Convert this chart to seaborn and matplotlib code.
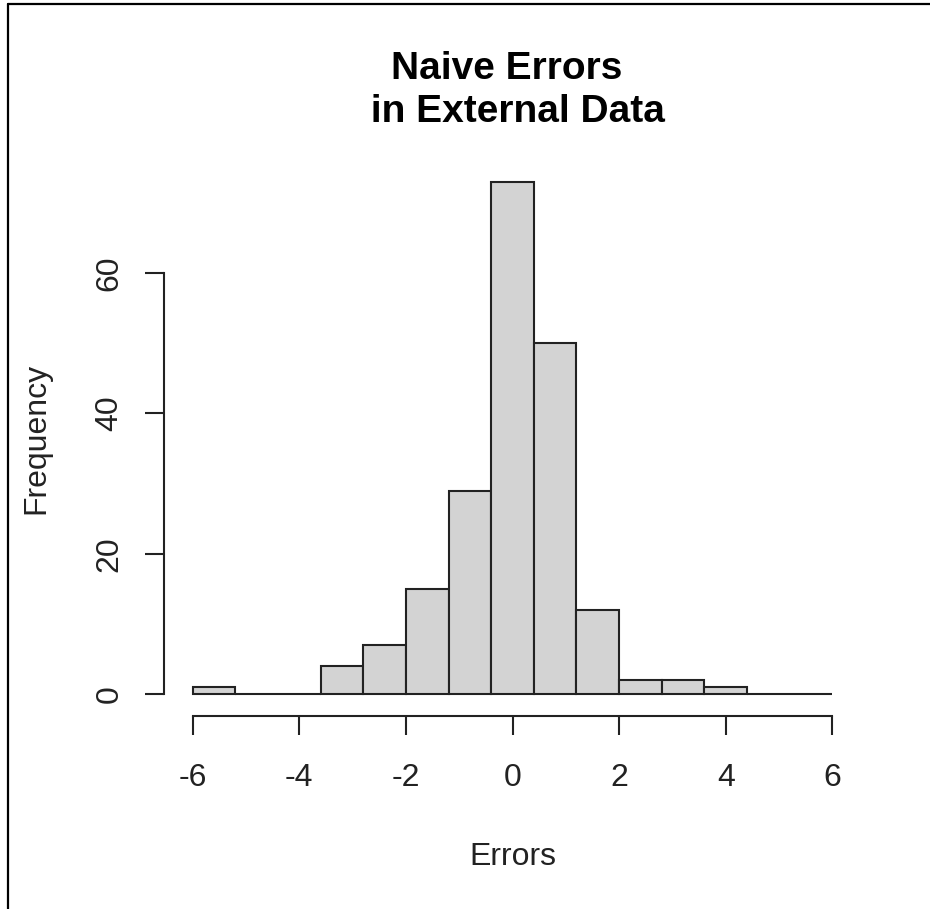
import numpy as np
import pandas as pd
import matplotlib
matplotlib.use("Agg")
import matplotlib.pyplot as plt
import seaborn as sns
from matplotlib.lines import Line2D

# Histogram bins (width 0.8 from -6 to 6) and counts
bin_edges = [-6.0, -5.2, -4.4, -3.6, -2.8, -2.0, -1.2, -0.4,
             0.4, 1.2, 2.0, 2.8, 3.6, 4.4, 5.2, 6.0]
counts = [1, 0, 0, 4, 7, 15, 29, 73, 50, 12, 2, 2, 1, 0, 0]
x_ticks = [-6, -4, -2, 0, 2, 4, 6]
y_ticks = [0, 20, 40, 60]

centers = [(a + b) / 2 for a, b in zip(bin_edges[:-1], bin_edges[1:])]
df = pd.DataFrame({"Errors": centers, "n": counts})

sns.set_style("white")
plt.rcParams["font.family"] = ["Liberation Sans", "DejaVu Sans"]

fig = plt.figure(figsize=(9.3, 9.09), dpi=100)
ax = fig.add_axes([167 / 930, 1 - 715 / 909, 691 / 930, 554 / 909])

sns.histplot(data=df, x="Errors", weights="n", bins=bin_edges,
             color="#D3D3D3", alpha=1, edgecolor="#222222",
             linewidth=1.5, ax=ax)

ax.set_xlim(-6.48, 6.48)
ax.set_ylim(-2.92, 75.92)

# R style detached axes
for s in ["top", "right"]:
    ax.spines[s].set_visible(False)
ax.spines["left"].set_bounds(0, 60)
ax.spines["bottom"].set_bounds(-6, 6)
ax.spines["left"].set_position(("outward", 2))
ax.spines["bottom"].set_position(("outward", 1))
for s in ["left", "bottom"]:
    ax.spines[s].set_color("#222222")
    ax.spines[s].set_linewidth(1.5)

ax.set_xticks(x_ticks)
ax.set_xticklabels([str(v) for v in x_ticks])
ax.set_yticks(y_ticks)
ax.set_yticklabels([str(v) for v in y_ticks], rotation=90, va="center")
ax.tick_params(axis="both", bottom=True, left=True, length=13.5,
               width=1.5, color="#222222", labelsize=23,
               labelcolor="#222222", direction="out")
ax.tick_params(axis="x", pad=20)
ax.tick_params(axis="y", pad=15)

ax.set_xlabel("Errors", fontsize=23, color="#222222", labelpad=35)
ax.set_ylabel("Frequency", fontsize=23, color="#222222", labelpad=31)
ax.set_title("Naive Errors \n in External Data", fontsize=28,
             fontweight="bold", color="black", pad=28, linespacing=1.25)

# frame edge seen in the screenshot (left and top)
fig.add_artist(Line2D([8 / 930, 8 / 930], [0, 1 - 4 / 909],
                      transform=fig.transFigure, color="black", lw=1.6))
fig.add_artist(Line2D([8 / 930, 1], [1 - 4 / 909, 1 - 4 / 909],
                      transform=fig.transFigure, color="black", lw=1.6))

fig.savefig("out.png", dpi=100)
